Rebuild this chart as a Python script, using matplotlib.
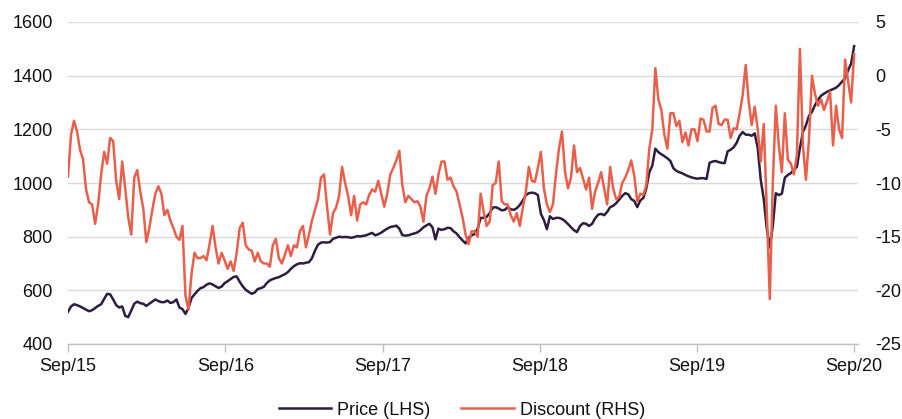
import matplotlib
matplotlib.use("Agg")
import matplotlib.pyplot as plt
import pandas as pd

plt.rcParams['font.family'] = ['Liberation Sans', 'DejaVu Sans']
plt.rcParams['axes.unicode_minus'] = False

start_date = "2015-09-30"
n_weeks = 262

price = [
    520, 540, 548, 545, 540, 534, 528, 522, 526, 534, 542, 548, 568, 587, 585, 566, 545, 536, 540, 505, 500, 525, 550, 558, 552, 550, 542, 550, 558, 566, 560, 556, 556,
    562, 553, 556, 566, 536, 530, 512, 534, 571, 585, 598, 608, 612, 621, 626, 622, 615, 609, 614, 627, 634, 642, 650, 652, 632, 615, 602, 594, 587, 592, 605, 608, 613,
    627, 637, 642, 646, 649, 655, 660, 668, 680, 690, 697, 701, 700, 703, 705, 720, 748, 770, 778, 779, 778, 780, 792, 796, 800, 798, 799, 798, 796, 798, 802, 801, 803,
    805, 810, 814, 805, 809, 815, 823, 830, 836, 838, 841, 830, 806, 804, 805, 809, 812, 816, 824, 835, 842, 848, 835, 790, 830, 825, 828, 833, 832, 820, 812, 798, 786,
    775, 795, 805, 810, 830, 870, 870, 874, 888, 908, 910, 905, 898, 900, 910, 902, 900, 906, 918, 935, 955, 962, 964, 962, 955, 885, 862, 828, 876, 866, 870, 870, 866,
    858, 847, 835, 824, 817, 840, 850, 848, 840, 848, 868, 882, 885, 880, 892, 910, 915, 925, 938, 952, 962, 958, 940, 933, 910, 935, 944, 980, 1040, 1065, 1128, 1115, 1107,
    1100, 1092, 1082, 1055, 1045, 1040, 1036, 1030, 1025, 1021, 1018, 1016, 1018, 1018, 1015, 1075, 1080, 1082, 1078, 1075, 1074, 1118, 1124, 1133, 1150, 1176, 1190, 1180, 1180, 1176, 1185, 1130, 1011,
    940, 830, 760, 840, 962, 955, 960, 1020, 1030, 1037, 1050, 1060, 1130, 1190, 1215, 1250, 1265, 1290, 1310, 1325, 1333, 1340, 1345, 1350, 1355, 1365, 1378, 1390, 1420, 1445, 1510,
]

discount = [
    -9.4, -5.5, -4.2, -5.2, -6.9, -7.8, -10.6, -11.8, -12.0, -13.8, -12.0, -9.2, -7.1, -8.2, -5.8, -6.1, -9.8, -11.5, -8.0, -10.5, -13.2, -14.8, -9.5, -8.8, -10.8, -12.4, -15.5, -14.2, -12.5, -11.0, -10.3, -11.0, -13.0,
    -12.5, -13.5, -14.2, -15.0, -15.3, -14.0, -20.5, -21.8, -18.5, -16.5, -17.0, -17.0, -16.8, -17.2, -15.7, -14.0, -16.0, -17.5, -16.5, -17.2, -18.0, -17.3, -18.2, -16.5, -14.2, -13.7, -15.8, -16.2, -16.3, -17.3, -16.5, -17.3, -17.5,
    -17.5, -17.8, -15.8, -15.2, -17.0, -17.5, -16.7, -15.8, -16.8, -15.8, -16.0, -14.5, -14.0, -16.0, -14.8, -13.5, -12.5, -11.5, -9.5, -9.2, -12.2, -14.8, -12.8, -12.3, -11.2, -8.5, -10.0, -11.2, -13.0, -11.2, -13.5, -12.0, -11.8,
    -12.0, -11.1, -10.6, -10.8, -9.8, -11.0, -12.2, -11.0, -9.2, -8.6, -7.9, -7.0, -10.2, -11.8, -11.2, -11.5, -11.8, -11.7, -12.2, -13.6, -11.2, -10.5, -9.4, -11.0, -9.2, -8.0, -8.0, -9.7, -9.5, -10.3, -10.8, -12.0, -13.2,
    -14.8, -15.7, -14.5, -14.5, -15.0, -11.0, -12.7, -14.0, -13.6, -10.2, -10.0, -8.0, -11.7, -12.0, -12.0, -13.0, -13.6, -12.8, -14.0, -12.3, -10.8, -8.5, -9.8, -9.9, -8.6, -7.1, -10.5, -12.0, -12.7, -12.0, -9.2, -6.8, -5.2,
    -8.9, -10.5, -9.5, -6.5, -9.0, -8.6, -9.6, -10.6, -9.5, -12.4, -10.8, -10.0, -9.0, -10.5, -12.0, -8.5, -10.5, -11.5, -11.3, -10.0, -9.5, -8.8, -7.9, -9.3, -11.7, -11.0, -11.1, -10.2, -6.8, -5.0, 0.7, -2.2, -3.2,
    -5.5, -6.8, -3.5, -3.5, -4.7, -4.2, -6.2, -5.3, -6.5, -5.0, -5.0, -6.1, -4.0, -4.1, -5.2, -5.2, -3.0, -2.8, -4.5, -4.6, -4.1, -4.1, -5.8, -4.9, -5.0, -3.5, -1.8, 1.0, -2.4, -4.6, -2.9, -5.0, -8.0,
    -4.5, -12.5, -20.8, -10.0, -2.8, -6.5, -9.0, -3.5, -7.8, -8.2, -9.2, -7.4, 2.5, -6.5, -9.7, -6.0, 0.0, -1.7, -2.8, -2.2, -3.2, -2.4, -1.5, -6.5, -2.8, -5.0, -5.8, 1.5, -0.5, -2.5, 2.0,
]

x_tick_dates = ["2015-09-30", "2016-09-30", "2017-09-30", "2018-09-30", "2019-09-30", "2020-09-30"]
x_tick_labels = ["Sep/15", "Sep/16", "Sep/17", "Sep/18", "Sep/19", "Sep/20"]
left_ticks = [400, 600, 800, 1000, 1200, 1400, 1600]
right_ticks = [-25, -20, -15, -10, -5, 0, 5]

dates = pd.date_range(start_date, periods=n_weeks, freq="7D")

price_color = "#2e1d3f"
disc_color = "#e8604c"
grid_color = "#d9d9d9"
text_color = "#111111"
fs = 13

fig = plt.figure(figsize=(9.03, 4.19), dpi=100)
ax = fig.add_axes([68 / 903, 1 - 344 / 419, (858 - 68) / 903, (344 - 22) / 419])
ax2 = ax.twinx()

l1, = ax.plot(dates, price, color=price_color, lw=1.8, label="Price (LHS)")
l2, = ax2.plot(dates, discount, color=disc_color, lw=1.8, label="Discount (RHS)")

ax.set_ylim(400, 1600)
ax.set_yticks(left_ticks)
ax2.set_ylim(-25, 5)
ax2.set_yticks(right_ticks)
ax.set_xlim(pd.Timestamp("2015-09-30"), pd.Timestamp("2020-10-09"))
ax.set_xticks([pd.Timestamp(d) for d in x_tick_dates])
ax.set_xticklabels(x_tick_labels)

ax.yaxis.grid(True, color=grid_color, lw=1)
ax.set_axisbelow(True)
for a in (ax, ax2):
    for s in ("top", "left", "right", "bottom"):
        a.spines[s].set_visible(False)
ax.spines["bottom"].set_visible(True)
ax.spines["bottom"].set_color("#bfbfbf")
ax.spines["bottom"].set_linewidth(1)

ax.tick_params(axis="y", length=0, pad=11, labelsize=fs, labelcolor=text_color)
ax2.tick_params(axis="y", length=0, pad=12.5, labelsize=fs, labelcolor=text_color)
ax.tick_params(axis="x", length=6, width=1, color="#bfbfbf", pad=4, labelsize=fs, labelcolor=text_color)

fig.legend([l1, l2], ["Price (LHS)", "Discount (RHS)"], loc="center",
           bbox_to_anchor=(462 / 903, 1 - 410 / 419), ncol=2, frameon=False,
           fontsize=fs, handlelength=2.9, handletextpad=0.35, columnspacing=1.7,
           labelcolor=text_color)

fig.savefig("out.png", dpi=100)
